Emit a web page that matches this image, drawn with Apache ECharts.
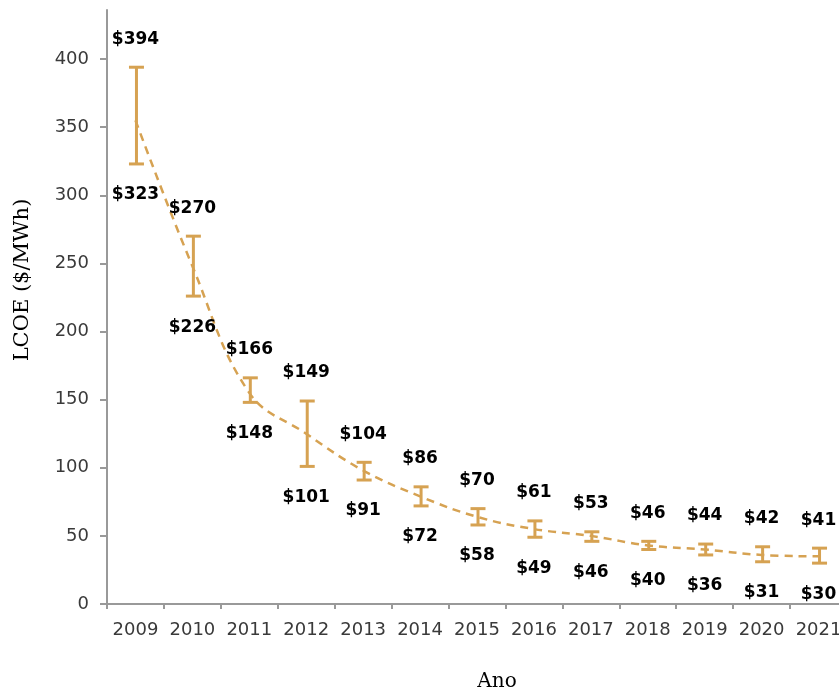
<!DOCTYPE html>
<html>
<head>
<meta charset="utf-8">
<script src="https://cdn.jsdelivr.net/npm/echarts@6/dist/echarts.min.js"></script>
<style>html,body{margin:0;padding:0;background:#fff;}#c{width:839px;height:693px;}</style>
</head>
<body>
<div id="c"></div>
<script>
var years = ['2009','2010','2011','2012','2013','2014','2015','2016','2017','2018','2019','2020','2021'];
var highValues = [394, 270, 166, 149, 104, 86, 70, 61, 53, 46, 44, 42, 41];
var lowValues = [323, 226, 148, 101, 91, 72, 58, 49, 46, 40, 36, 31, 30];
var trendValues = [355, 248, 155, 125, 98, 79, 64, 55, 50, 43, 40, 36, 35];
var yTickValues = [0, 50, 100, 150, 200, 250, 300, 350, 400];

var gold = '#D6A252';
var chart = echarts.init(document.getElementById('c'));
var errData = years.map(function (y, i) { return [i, lowValues[i], highValues[i]]; });

chart.setOption({
  animation: false,
  grid: { left: 107, right: -8, top: 10, bottom: 89, outerBoundsMode: 'none', containLabel: false },
  xAxis: {
    type: 'category',
    data: years,
    boundaryGap: true,
    name: 'Ano',
    nameLocation: 'middle',
    nameGap: 68,
    nameTextStyle: { fontFamily: 'DejaVu Serif', fontSize: 20, color: '#000', padding: [0, 0, 0, 40] },
    axisLine: { lineStyle: { color: '#999', width: 2 } },
    axisTick: { show: true, length: 5, lineStyle: { color: '#999', width: 2 } },
    axisLabel: { fontFamily: 'DejaVu Sans', fontSize: 18, color: '#3a3a3a', margin: 17, interval: 0 }
  },
  yAxis: {
    type: 'value',
    min: 0,
    max: 436,
    name: 'LCOE ($/MWh)',
    nameLocation: 'middle',
    nameGap: 74,
    nameTextStyle: { fontFamily: 'DejaVu Serif', fontSize: 21, color: '#000', padding: [0, 0, 0, 54] },
    axisLine: { show: true, lineStyle: { color: '#999', width: 2 } },
    axisTick: { show: true, length: 7, customValues: yTickValues, lineStyle: { color: '#999', width: 2 } },
    axisLabel: { fontFamily: 'DejaVu Sans', fontSize: 18, color: '#3a3a3a', margin: 18, customValues: yTickValues },
    splitLine: { show: false }
  },
  series: [
    {
      type: 'line',
      data: trendValues,
      smooth: 0.4,
      symbol: 'none',
      lineStyle: { color: gold, width: 2.5, type: [8, 6] },
      z: 1
    },
    {
      type: 'custom',
      data: errData,
      z: 2,
      renderItem: function (params, api) {
        var idx = api.value(0);
        var top = api.coord([idx, api.value(2)]);
        var bot = api.coord([idx, api.value(1)]);
        var x = top[0] + 1;
        var half = 7.5;
        var st = { stroke: gold, lineWidth: 3 };
        var tf = { fontFamily: 'DejaVu Sans', fontWeight: 'bold', fontSize: 17, fill: '#000', align: 'center', verticalAlign: 'middle' };
        return {
          type: 'group',
          children: [
            { type: 'line', shape: { x1: x, y1: top[1], x2: x, y2: bot[1] }, style: st },
            { type: 'line', shape: { x1: x - half, y1: top[1], x2: x + half, y2: top[1] }, style: st },
            { type: 'line', shape: { x1: x - half, y1: bot[1], x2: x + half, y2: bot[1] }, style: st },
            { type: 'text', style: Object.assign({ text: '$' + api.value(2), x: x - 1, y: top[1] - 28 }, tf) },
            { type: 'text', style: Object.assign({ text: '$' + api.value(1), x: x - 1, y: bot[1] + 31 }, tf) }
          ]
        };
      }
    }
  ]
});
</script>
</body>
</html>
